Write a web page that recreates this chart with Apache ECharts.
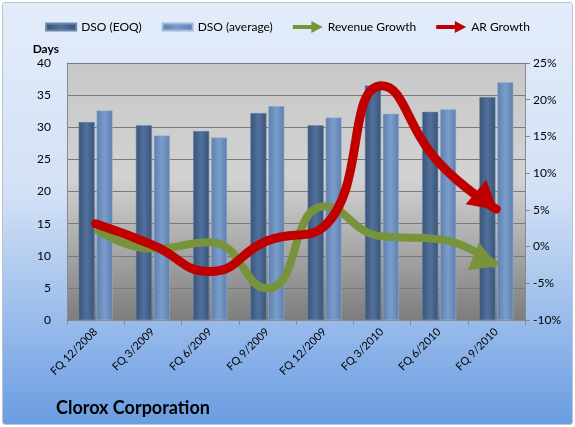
<!DOCTYPE html>
<html>
<head>
<meta charset="utf-8">
<script src="https://cdn.jsdelivr.net/npm/echarts@6/dist/echarts.min.js"></script>
<style>
  html, body { margin: 0; padding: 0; background: #fff; }
  #chart { position: absolute; left: 2px; top: 2px; width: 569px; height: 421px;
           border: 1px solid #b8c4d4; border-radius: 3px; overflow: hidden; }
</style>
</head>
<body>
<div id="chart"></div>
<script>
var categories = ['FQ 12/2008', 'FQ 3/2009', 'FQ 6/2009', 'FQ 9/2009',
                  'FQ 12/2009', 'FQ 3/2010', 'FQ 6/2010', 'FQ 9/2010'];
var dsoEoq = [30.8, 30.3, 29.4, 32.2, 30.3, 36.5, 32.4, 34.7];
var dsoAvg = [32.6, 28.7, 28.4, 33.3, 31.5, 32.1, 32.8, 37.0];
var revenueGrowth = [2.4, -0.3, 0.6, -5.7, 5.5, 1.4, 1.0, -2.6];
var arGrowth = [3.1, 0.2, -3.4, 0.8, 2.8, 21.9, 11.4, 5.1];

var font = 'Lato, "Open Sans", sans-serif';
var arrowPath = 'path://M0,13 L62,13 L62,0 L100,20 L62,40 L62,27 L0,27 Z';
var barIcon = 'path://M0,0 L100,0 L100,24 L0,24 Z';

// last point of a growth line gets an arrowhead, tip sitting on the value
function arrowData(values, rotate, size) {
  var ang = (90 + rotate) * Math.PI / 180;
  var dx = Math.cos(ang), dy = -Math.sin(ang);
  return values.map(function (v, i) {
    if (i < values.length - 1) return v;
    return {
      value: v,
      symbol: 'triangle',
      symbolSize: size,
      symbolRotate: rotate,
      symbolKeepAspect: true,
      symbolOffset: [-dx * size[1] * 0.45, -dy * size[1] * 0.45]
    };
  });
}

function barColor(c1, c2) {
  return new echarts.graphic.LinearGradient(0, 0, 1, 0, [
    { offset: 0, color: c1 },
    { offset: 0.5, color: c2 },
    { offset: 1, color: c1 }
  ]);
}

var chart = echarts.init(document.getElementById('chart'));
var option = {
  backgroundColor: new echarts.graphic.LinearGradient(0, 0, 0, 1, [
    { offset: 0, color: '#e3ecfa' },
    { offset: 0.45, color: '#d3e1f6' },
    { offset: 1, color: '#6a9de2' }
  ]),
  animation: false,
  textStyle: { fontFamily: font },
  title: {
    text: 'Clorox Corporation',
    left: 48, bottom: 2,
    textStyle: { fontSize: 18, fontWeight: 'bold', color: '#000', fontFamily: font }
  },
  legend: {
    top: 13,
    left: 'center',
    itemGap: 20,
    itemWidth: 30,
    itemHeight: 12,
    textStyle: { fontSize: 12, color: '#000', fontFamily: font },
    data: [
      { name: 'DSO (EOQ)', icon: barIcon },
      { name: 'DSO (average)', icon: barIcon },
      { name: 'Revenue Growth', icon: arrowPath },
      { name: 'AR Growth', icon: arrowPath }
    ]
  },
  grid: {
    left: 64, right: 47, top: 60, bottom: 104,
    show: true,
    borderWidth: 0,
    backgroundColor: new echarts.graphic.LinearGradient(0, 0, 0, 1, [
      { offset: 0, color: '#c8c8c8' },
      { offset: 0.45, color: '#d2d2d2' },
      { offset: 1, color: '#7d7d7d' }
    ])
  },
  xAxis: {
    type: 'category',
    data: categories,
    axisLine: { lineStyle: { color: '#8a8a8a' } },
    axisTick: { show: true, lineStyle: { color: '#8a8a8a' } },
    axisLabel: { rotate: 45, fontSize: 11, color: '#000', margin: 10, fontFamily: font }
  },
  yAxis: [{
    type: 'value',
    name: 'Days',
    nameGap: 8,
    nameTextStyle: { fontWeight: 'bold', fontSize: 12, color: '#000', align: 'right', padding: [0, 8, 0, 0] },
    min: 0, max: 40, interval: 5,
    axisLine: { show: true, lineStyle: { color: '#8a8a8a' } },
    axisTick: { show: false },
    axisLabel: { fontSize: 12, color: '#000', margin: 16 },
    splitLine: { lineStyle: { color: '#7a7a7a' } }
  }, {
    type: 'value',
    min: -10, max: 25, interval: 5,
    axisLine: { show: true, lineStyle: { color: '#8a8a8a' } },
    axisTick: { show: true, length: 5, lineStyle: { color: '#8a8a8a' } },
    axisLabel: { fontSize: 12, color: '#000', formatter: '{value}%', margin: 8 },
    splitLine: { show: false }
  }],
  series: [{
    name: 'DSO (EOQ)',
    type: 'bar',
    data: dsoEoq,
    barWidth: 16,
    barGap: '12%',
    itemStyle: { color: barColor('#3a5478', '#51709c'), borderColor: '#6d87ab', borderWidth: 0.5 }
  }, {
    name: 'DSO (average)',
    type: 'bar',
    data: dsoAvg,
    barWidth: 16,
    itemStyle: { color: barColor('#5d7fad', '#7a9dcc'), borderColor: '#9fb7d8', borderWidth: 0.5 }
  }, {
    name: 'Revenue Growth',
    type: 'line',
    yAxisIndex: 1,
    data: arrowData(revenueGrowth, -112, [30, 26]),
    smooth: 0.5,
    symbol: 'none',
    color: '#77933c',
    lineStyle: { color: '#77933c', width: 8 },
    itemStyle: { color: '#77933c' },
    z: 3
  }, {
    name: 'AR Growth',
    type: 'line',
    yAxisIndex: 1,
    data: arrowData(arGrowth, -130, [32, 28]),
    smooth: 0.5,
    symbol: 'none',
    color: '#c00000',
    lineStyle: { color: '#c00000', width: 9, cap: 'round' },
    itemStyle: { color: '#c00000' },
    z: 4
  }]
};
chart.setOption(option);
</script>
</body>
</html>
